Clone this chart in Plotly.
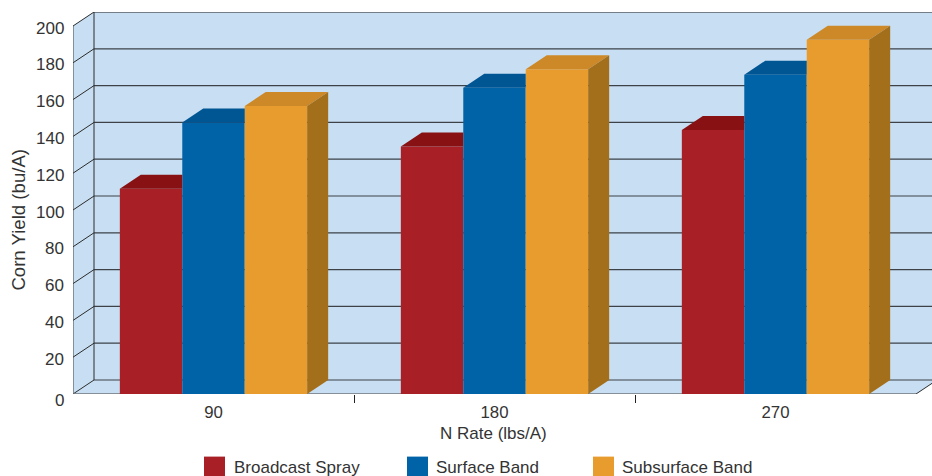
import plotly.graph_objects as go

# Chart data
n_rates = ["90", "180", "270"]
broadcast_spray = [111.5, 134.5, 143.5]
surface_band = [147.5, 166.5, 173.5]
subsurface_band = [156.5, 176.5, 192.5]
series_names = ["Broadcast Spray", "Surface Band", "Subsurface Band"]
y_ticks = [20, 40, 60, 80, 100, 120, 140, 160, 180, 200]

# Face colours per series: front, top, side
front_colors = ["#A81F26", "#0063A7", "#E99C2E"]
top_colors = ["#881213", "#005593", "#CD8827"]
side_colors = ["#6E0F10", "#00497E", "#A36F1B"]
WALL = "#C8DFF3"
GRID = "#3C4248"
TEXT = "#333333"
FONT = "Liberation Sans, Arial, sans-serif"

WIDTH, HEIGHT = 932, 476
LEFT, BOTTOM_PX, TOP_PX = 73, 394.4, 12.4
PX_PER_GROUP = 281.0
PX_PER_UNIT = 1.84

# Pseudo-3D depth expressed in axis units
DX = 21 / PX_PER_GROUP
DY = 14 / PX_PER_UNIT
X_END = 3.0
BAR_GAP = 1 / 3
BAR_W = (1 - BAR_GAP) / 3

x_centers = [0.5, 1.5, 2.5]
all_values = [broadcast_spray, surface_band, subsurface_band]


def px_x(px):
    return (px - LEFT) / (WIDTH - LEFT)


def px_y(px):
    return (BOTTOM_PX - px) / (BOTTOM_PX - TOP_PX)


fig = go.Figure()

# Front faces are real bars
for name, vals, color in zip(series_names, all_values, front_colors):
    fig.add_trace(go.Bar(x=x_centers, y=vals, name=name, marker=dict(color=color, line_width=0),
                         showlegend=False, hoverinfo="skip"))


def face(xs, ys, color):
    fig.add_trace(go.Scatter(x=xs, y=ys, mode="lines", fill="toself", fillcolor=color,
                             line=dict(width=0, color=color), showlegend=False, hoverinfo="skip"))


# Top faces stop at the next bar's front; only the last bar shows its side
for s, vals in enumerate(all_values):
    for c, v in zip(x_centers, vals):
        x0 = c - 1.5 * BAR_W + s * BAR_W
        x1 = x0 + BAR_W
        if s < 2:
            face([x0, x0 + DX, x1, x1, x0], [v, v + DY, v + DY, v, v], top_colors[s])
        else:
            face([x0, x0 + DX, x1 + DX, x1, x0], [v, v + DY, v + DY, v, v], top_colors[s])
            face([x1, x1 + DX, x1 + DX, x1, x1], [0, DY, v + DY, v, 0], side_colors[s])

shapes = []


def poly(points, color):
    path = "M " + " L ".join(f"{x},{y}" for x, y in points) + " Z"
    shapes.append(dict(type="path", path=path, xref="x", yref="y", fillcolor=color,
                       line_width=0, layer="below"))


def seg(x0, y0, x1, y1, color=GRID, width=1.2):
    shapes.append(dict(type="line", xref="x", yref="y", x0=x0, y0=y0, x1=x1, y1=y1,
                       line=dict(color=color, width=width), layer="below"))


# Back wall, side wall and floor
poly([(DX, DY), (DX, 200 + DY), (X_END + DX, 200 + DY), (X_END + DX, DY)], WALL)
poly([(0, 0), (DX, DY), (DX, 200 + DY), (0, 200)], WALL)
poly([(0, 0), (DX, DY), (X_END + DX, DY), (X_END, 0)], WALL)

# Gridlines wrap from the side wall onto the back wall
for t in [0] + y_ticks:
    seg(0, t, DX, t + DY, "#2B2B2B", 1)
    seg(DX, t + DY, X_END + DX, t + DY, "#1F1F1F" if t == 200 else GRID)
seg(DX, DY, DX, 200 + DY, "#2B2B2B", 1)
seg(0, 0, 0, 200, "#3C4248", 1)
seg(0, 0, X_END, 0, "#6F7478", 1.6)
seg(X_END, 0, X_END + DX, DY, "#2B2B2B", 1)

# Legend row below the plot
swatch_left = [204, 407, 593]
label_left = [232, 433.5, 620]
annotations = []
for name, color, sx, lx in zip(series_names, front_colors, swatch_left, label_left):
    shapes.append(dict(type="rect", xref="paper", yref="paper",
                       x0=px_x(sx), x1=px_x(sx + 21), y0=px_y(478), y1=px_y(457),
                       fillcolor=color, line_width=0, layer="above"))
    annotations.append(dict(text=name, xref="paper", yref="paper", showarrow=False,
                            x=px_x(lx), y=px_y(467.5), xanchor="left", yanchor="middle",
                            font=dict(family=FONT, size=17, color=TEXT)))

# Value-axis labels sit just under their gridline heights; zero drops further
for t in [0] + y_ticks:
    annotations.append(dict(text=str(t), xref="paper", yref="y", x=0, y=t,
                            xanchor="right", yanchor="middle", xshift=-7,
                            yshift=-6 if t == 0 else -2, showarrow=False,
                            font=dict(family=FONT, size=17, color=TEXT)))

# Axis titles
annotations.append(dict(text="Corn Yield (bu/A)", xref="paper", yref="paper", showarrow=False,
                        x=px_x(18.5), y=px_y(220.5), xanchor="center", yanchor="middle", textangle=-90,
                        font=dict(family=FONT, size=18.6, color=TEXT)))
annotations.append(dict(text="N Rate (lbs/A)", xref="paper", yref="paper", showarrow=False,
                        x=px_x(493.5), y=px_y(434), xanchor="center", yanchor="middle",
                        font=dict(family=FONT, size=17, color=TEXT)))

fig.update_layout(
    width=WIDTH, height=HEIGHT, autosize=False,
    margin=dict(l=LEFT, r=0, t=TOP_PX, b=HEIGHT - BOTTOM_PX, pad=0),
    paper_bgcolor="white", plot_bgcolor="white",
    barmode="group", bargap=BAR_GAP, bargroupgap=0,
    showlegend=False, shapes=shapes, annotations=annotations,
    font=dict(family=FONT, size=16.6, color=TEXT),
    xaxis=dict(
        range=[0, (WIDTH - LEFT) / PX_PER_GROUP], tickvals=x_centers, ticktext=n_rates,
        ticks="outside", ticklen=3, tickcolor="rgba(0,0,0,0)",
        showgrid=False, zeroline=False, showline=False,
        minor=dict(tickvals=[1, 2], ticks="outside", ticklen=8, tickcolor="#222222", tickwidth=1),
        tickfont=dict(size=16.8, color=TEXT), automargin=False,
    ),
    yaxis=dict(
        range=[0, (BOTTOM_PX - TOP_PX) / PX_PER_UNIT], tickvals=y_ticks, showticklabels=False,
        ticks="", showgrid=False, zeroline=False, showline=False, automargin=False,
    ),
)

fig.write_html("out.html", config=dict(displayModeBar=False))
